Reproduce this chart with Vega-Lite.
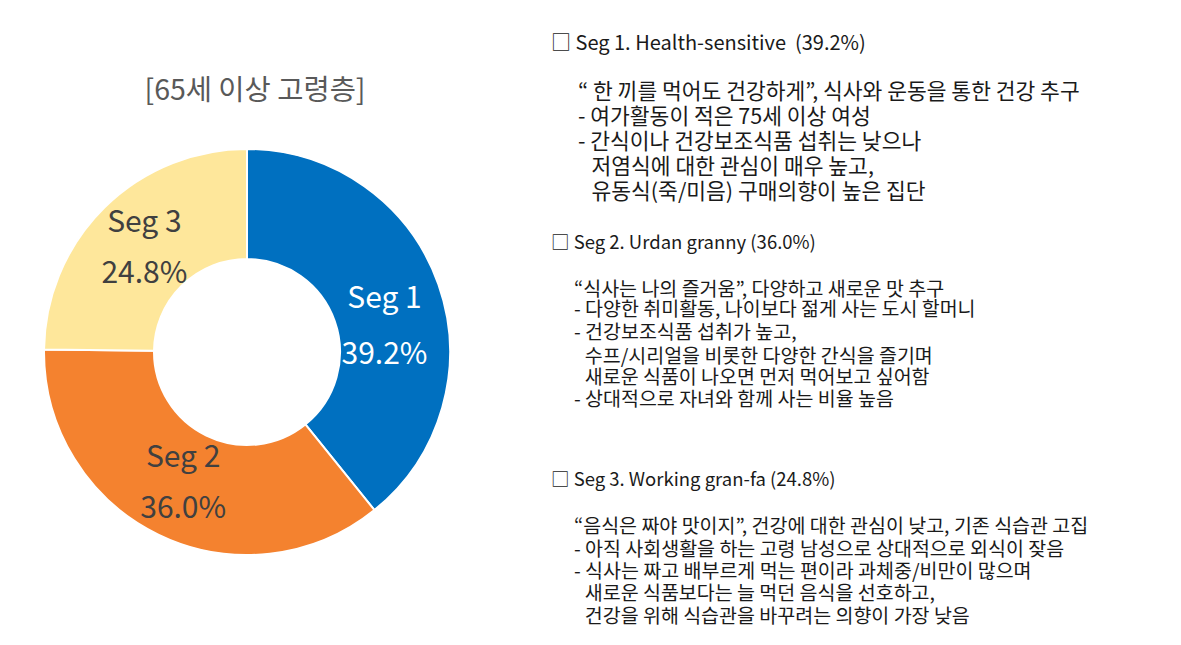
{
  "$schema": "https://vega.github.io/schema/vega-lite/v6.json",
  "padding": 0,
  "background": "white",
  "config": {"view": {"stroke": null}, "font": "Noto Sans CJK KR"},
  "datasets": {
    "segs": [
      {"seg": "Seg 1", "share": 0.392},
      {"seg": "Seg 2", "share": 0.360},
      {"seg": "Seg 3", "share": 0.248}
    ],
    "heading": [{"title": "[65세 이상 고령층]"}],
    "notes": [
      {"seg": 1, "kind": "head", "indent": 0, "row": 1.81, "text": "□ Seg 1. Health-sensitive \u00a0(39.2%)"},
      {"seg": 1, "kind": "body", "indent": 2, "row": 3.83, "text": "“ 한 끼를 먹어도 건강하게”, 식사와 운동을 통한 건강 추구"},
      {"seg": 1, "kind": "body", "indent": 2, "row": 4.86, "text": "- 여가활동이 적은 75세 이상 여성"},
      {"seg": 1, "kind": "body", "indent": 2, "row": 5.88, "text": "- 간식이나 건강보조식품 섭취는 낮으나"},
      {"seg": 1, "kind": "body", "indent": 3, "row": 6.91, "text": "저염식에 대한 관심이 매우 높고,"},
      {"seg": 1, "kind": "body", "indent": 3, "row": 7.94, "text": "유동식(죽/미음) 구매의향이 높은 집단"},
      {"seg": 2, "kind": "head", "indent": 0, "row": 10.0, "text": "□ Seg 2. Urdan granny (36.0%)"},
      {"seg": 2, "kind": "body", "indent": 1.7, "row": 11.93, "text": "“식사는 나의 즐거움”, 다양하고 새로운 맛 추구"},
      {"seg": 2, "kind": "body", "indent": 1.7, "row": 12.76, "text": "- 다양한 취미활동, 나이보다 젊게 사는 도시 할머니"},
      {"seg": 2, "kind": "body", "indent": 1.7, "row": 13.7, "text": "- 건강보조식품 섭취가 높고,"},
      {"seg": 2, "kind": "body", "indent": 2.5, "row": 14.69, "text": "수프/시리얼을 비롯한 다양한 간식을 즐기며"},
      {"seg": 2, "kind": "body", "indent": 2.5, "row": 15.56, "text": "새로운 식품이 나오면 먼저 먹어보고 싶어함"},
      {"seg": 2, "kind": "body", "indent": 1.7, "row": 16.46, "text": "- 상대적으로 자녀와 함께 사는 비율 높음"},
      {"seg": 3, "kind": "head", "indent": 0, "row": 19.75, "text": "□ Seg 3. Working gran-fa (24.8%)"},
      {"seg": 3, "kind": "body", "indent": 1.7, "row": 21.69, "text": "“음식은 짜야 맛이지”, 건강에 대한 관심이 낮고, 기존 식습관 고집"},
      {"seg": 3, "kind": "body", "indent": 1.7, "row": 22.63, "text": "- 아직 사회생활을 하는 고령 남성으로 상대적으로 외식이 잦음"},
      {"seg": 3, "kind": "body", "indent": 1.7, "row": 23.54, "text": "- 식사는 짜고 배부르게 먹는 편이라 과체중/비만이 많으며"},
      {"seg": 3, "kind": "body", "indent": 2.5, "row": 24.44, "text": "새로운 식품보다는 늘 먹던 음식을 선호하고,"},
      {"seg": 3, "kind": "body", "indent": 2.5, "row": 25.39, "text": "건강을 위해 식습관을 바꾸려는 의향이 가장 낮음"}
    ]
  },
  "spacing": 57,
  "hconcat": [
    {
      "vconcat": [
        {
          "width": 494,
          "height": 180,
          "data": {"name": "heading"},
          "mark": {"type": "text", "fontSize": 28.5, "color": "#595959", "dx": 8, "dy": 1, "baseline": "middle", "align": "center"},
          "encoding": {"text": {"field": "title", "type": "nominal"}}
        },
        {
          "width": 494,
          "height": 344,
          "data": {"name": "segs"},
          "encoding": {
            "theta": {"field": "share", "type": "quantitative", "stack": true},
            "order": {"field": "seg", "type": "nominal", "sort": "ascending"}
          },
          "layer": [
            {
              "mark": {"type": "arc", "innerRadius": 93, "outerRadius": 203, "stroke": "white", "strokeWidth": 2},
              "encoding": {
                "color": {
                  "field": "seg",
                  "type": "nominal",
                  "scale": {"domain": ["Seg 1", "Seg 2", "Seg 3"], "range": ["#0070C0", "#F4822F", "#FEE79B"]},
                  "legend": null
                }
              }
            },
            {
              "mark": {"type": "text", "radius": 140, "thetaOffset": 0.15, "dy": -27, "fontSize": 30, "baseline": "middle", "fill": "#FFFFFF"},
              "encoding": {
                "text": {"condition": {"test": "datum.seg === 'Seg 1'", "field": "seg", "type": "nominal"}, "value": ""}
              }
            },
            {
              "mark": {"type": "text", "radius": 140, "thetaOffset": 0.15, "dy": 29, "fontSize": 30, "baseline": "middle", "fill": "#FFFFFF"},
              "encoding": {
                "text": {"condition": {"test": "datum.seg === 'Seg 1'", "field": "share", "type": "quantitative", "format": ".1%"}, "value": ""}
              }
            },
            {
              "mark": {"type": "text", "radius": 146, "dy": -25, "fontSize": 30, "baseline": "middle", "fill": "#404040"},
              "encoding": {
                "text": {"condition": {"test": "datum.seg !== 'Seg 1'", "field": "seg", "type": "nominal"}, "value": ""}
              }
            },
            {
              "mark": {"type": "text", "radius": 146, "dy": 26, "fontSize": 30, "baseline": "middle", "fill": "#404040"},
              "encoding": {
                "text": {"condition": {"test": "datum.seg !== 'Seg 1'", "field": "share", "type": "quantitative", "format": ".1%"}, "value": ""}
              }
            }
          ]
        }
      ],
      "spacing": 0,
      "bounds": "flush"
    },
    {
      "width": 630,
      "height": 645,
      "data": {"name": "notes"},
      "encoding": {
        "x": {"field": "indent", "type": "quantitative", "scale": {"domain": [0, 46.67], "nice": false, "zero": false}, "axis": null},
        "y": {"field": "row", "type": "quantitative", "scale": {"domain": [0, 26.54], "nice": false, "zero": false, "reverse": true}, "axis": null},
        "text": {"field": "text", "type": "nominal"}
      },
      "layer": [
        {
          "transform": [{"filter": "datum.kind === 'head' && datum.seg === 1"}],
          "mark": {"type": "text", "align": "left", "baseline": "middle", "fontSize": 20, "color": "#1a1a1a"}
        },
        {
          "transform": [{"filter": "datum.kind === 'head' && datum.seg !== 1"}],
          "mark": {"type": "text", "align": "left", "baseline": "middle", "fontSize": 18.5, "color": "#1a1a1a"}
        },
        {
          "transform": [{"filter": "datum.kind === 'body' && datum.seg === 1"}],
          "mark": {"type": "text", "align": "left", "baseline": "middle", "fontSize": 21.5, "color": "#1a1a1a"}
        },
        {
          "transform": [{"filter": "datum.kind === 'body' && datum.seg !== 1"}],
          "mark": {"type": "text", "align": "left", "baseline": "middle", "fontSize": 19.5, "color": "#1a1a1a"}
        }
      ]
    }
  ]
}
